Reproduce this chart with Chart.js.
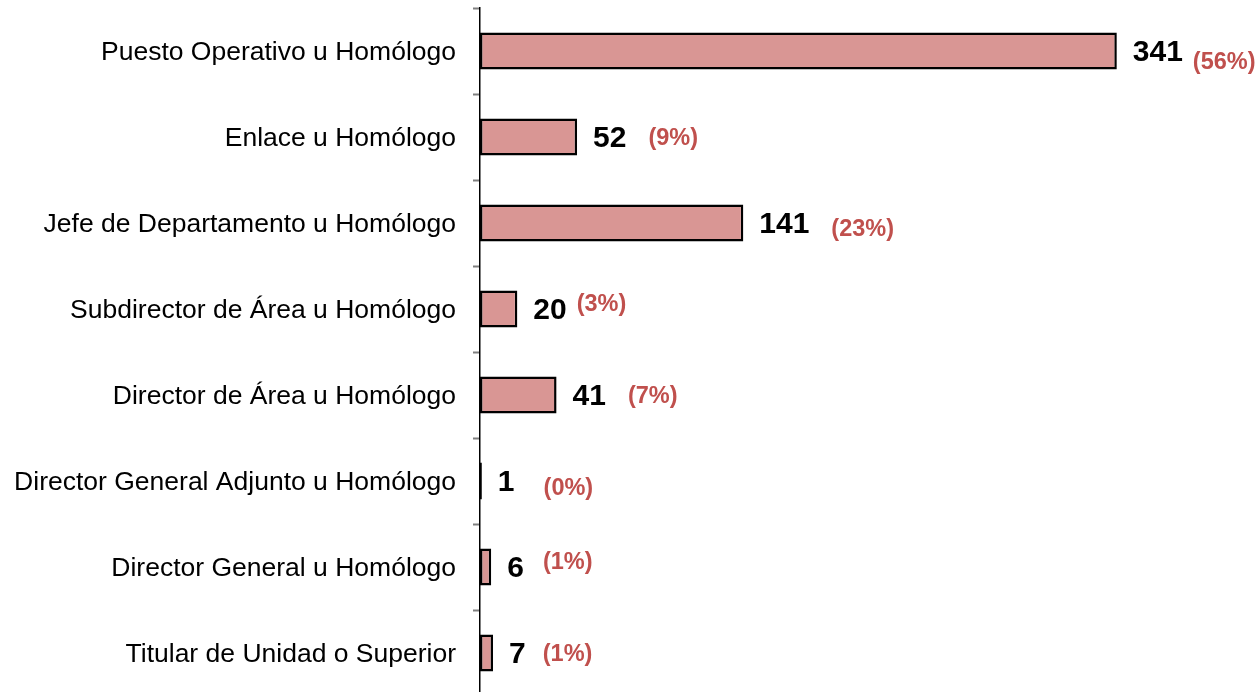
<!DOCTYPE html>
<html>
<head>
<meta charset="utf-8">
<script src="https://cdn.jsdelivr.net/npm/chart.js@4.4.0/dist/chart.umd.min.js"></script>
<style>
  html, body { margin: 0; padding: 0; background: #fff; overflow: hidden; }
  #wrap { width: 1259px; height: 700px; }
</style>
</head>
<body>
<div id="wrap"><canvas id="chart"></canvas></div>
<script>
const categories = [
  "Puesto Operativo u Homólogo",
  "Enlace u Homólogo",
  "Jefe de Departamento u Homólogo",
  "Subdirector de Área u Homólogo",
  "Director de Área u Homólogo",
  "Director General Adjunto u Homólogo",
  "Director General u Homólogo",
  "Titular de Unidad o Superior"
];
const counts = [341, 52, 141, 20, 41, 1, 6, 7];
const percents = ["(56%)", "(9%)", "(23%)", "(3%)", "(7%)", "(0%)", "(1%)", "(1%)"];

// nudges for the percent labels, placed by hand in the original
const pctDx = [10, 22, 22, 10, 22, 29, 19, 17];
const pctDy = [10, 0, 5, -6, 0, 6, -6, 0];

const labelPlugin = {
  id: "barLabels",
  afterDatasetsDraw(chart) {
    const ctx = chart.ctx;
    const meta = chart.getDatasetMeta(0);
    ctx.save();
    ctx.textBaseline = "middle";
    ctx.textAlign = "left";
    meta.data.forEach((bar, i) => {
      const x = bar.x + 16;
      const y = bar.y + 2;
      ctx.font = "bold 30px 'Liberation Sans', Arial, sans-serif";
      ctx.fillStyle = "#000";
      const txt = String(counts[i]);
      ctx.fillText(txt, x, y);
      const w = ctx.measureText(txt).width;
      ctx.font = "bold 23.5px 'Liberation Sans', Arial, sans-serif";
      ctx.fillStyle = "#C0504D";
      ctx.fillText(percents[i], x + w + pctDx[i], y + pctDy[i]);
    });
    ctx.restore();
  }
};

new Chart(document.getElementById("chart"), {
  type: "bar",
  data: {
    labels: categories,
    datasets: [{
      data: counts,
      backgroundColor: "#D99694",
      borderColor: "#000",
      borderWidth: 2.5,
      borderSkipped: false,
      categoryPercentage: 1,
      barPercentage: 0.43
    }]
  },
  options: {
    indexAxis: "y",
    responsive: true,
    maintainAspectRatio: false,
    animation: false,
    layout: { padding: { top: 8, right: 32, bottom: 4, left: 0 } },
    plugins: { legend: { display: false }, tooltip: { enabled: false } },
    scales: {
      x: { display: false, min: 0, max: 400 },
      y: {
        afterFit: (s) => {
          s.width = 480;
          s.paddingTop = 0;
          s.paddingBottom = 0;
        },
        grid: {
          drawOnChartArea: false,
          drawTicks: true,
          tickLength: 7,
          tickColor: "#7f7f7f",
          tickWidth: 2
        },
        border: { display: true, color: "#000", width: 1.5 },
        ticks: {
          padding: 17,
          labelOffset: 2,
          color: "#000",
          font: { family: "'Liberation Sans', Arial, sans-serif", size: 26.5 }
        }
      }
    }
  },
  plugins: [labelPlugin]
});
</script>
</body>
</html>
